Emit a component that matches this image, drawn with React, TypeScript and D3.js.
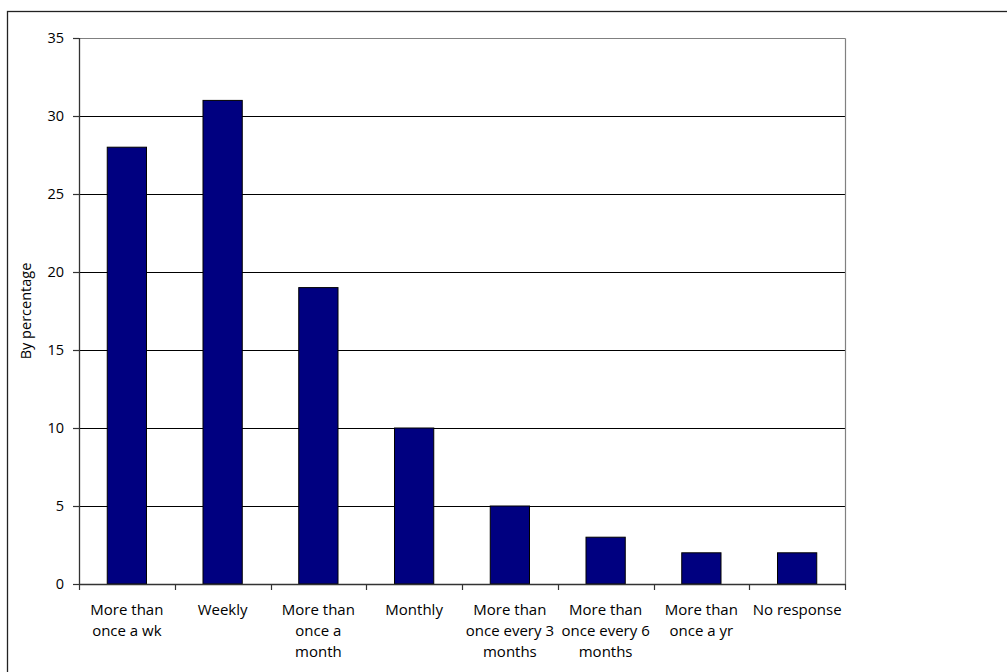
import React from "react";
import * as d3 from "d3";

// Survey frequency categories (line breaks mark the wrapped label lines)
const categories: string[] = [
  "More than\nonce a wk",
  "Weekly",
  "More than\nonce a\nmonth",
  "Monthly",
  "More than\nonce every 3\nmonths",
  "More than\nonce every 6\nmonths",
  "More than\nonce a yr",
  "No response",
];

const percentages: number[] = [28, 31, 19, 10, 5, 3, 2, 2];

const yTicks: number[] = [0, 5, 10, 15, 20, 25, 30, 35];

const yAxisTitle = "By percentage";

const W = 1007;
const H = 672;
const margin = { left: 79, right: 162, top: 38, bottom: 88 };
const FONT = "'Open Sans', 'DejaVu Sans', sans-serif";

export default function App() {
  const x0 = margin.left;
  const x1 = W - margin.right;
  const y0 = H - margin.bottom;
  const y1 = margin.top;

  const x = d3
    .scaleBand<string>()
    .domain(categories)
    .range([x0, x1])
    .paddingInner(0.59)
    .paddingOuter(0.295);

  const y = d3.scaleLinear().domain([0, 35]).range([y0, y1]);

  const boundaries = d3
    .range(categories.length + 1)
    .map((i) => x0 + i * ((x1 - x0) / categories.length));

  const crisp = (v: number) => Math.round(v) + 0.5;

  return (
    <svg
      width={W}
      height={H}
      style={{ position: "absolute", left: 0, top: 0, background: "#fff" }}
      fontFamily={FONT}
    >
      {/* outer chart frame */}
      <rect x={7.5} y={11.5} width={1010} height={680} fill="none" stroke="#222" strokeWidth={1.3} />

      {/* horizontal gridlines */}
      {yTicks
        .filter((t) => t > 0 && t < 35)
        .map((t) => (
          <line key={"g" + t} x1={x0} x2={x1} y1={crisp(y(t))} y2={crisp(y(t))} stroke="#000" strokeWidth={1} />
        ))}

      {/* plot area border (top and right) */}
      <line x1={x0} x2={x1 + 0.5} y1={crisp(y(35))} y2={crisp(y(35))} stroke="#808080" strokeWidth={1.2} />
      <line x1={x1 + 0.5} x2={x1 + 0.5} y1={crisp(y(35))} y2={y0} stroke="#808080" strokeWidth={1.2} />

      {/* bars */}
      {categories.map((c, i) => (
        <rect
          key={c}
          x={x(c)!}
          y={y(percentages[i])}
          width={x.bandwidth()}
          height={y0 - y(percentages[i])}
          fill="#000080"
          stroke="#000"
          strokeWidth={1}
        />
      ))}

      {/* y axis */}
      <line x1={x0 + 0.5} x2={x0 + 0.5} y1={y1} y2={y0 + 0.5} stroke="#333" strokeWidth={1.3} />
      {yTicks.map((t) => (
        <g key={"t" + t}>
          <line x1={x0 - 6} x2={x0} y1={crisp(y(t))} y2={crisp(y(t))} stroke="#333" strokeWidth={1.2} />
          <text x={x0 - 15} y={y(t)} dy="0.35em" textAnchor="end" fontSize={14.5} fill="#000">
            {t}
          </text>
        </g>
      ))}

      {/* x axis */}
      <line x1={x0} x2={x1 + 0.5} y1={y0 + 0.5} y2={y0 + 0.5} stroke="#333" strokeWidth={1.3} />
      {boundaries.map((b, i) => (
        <line key={"xt" + i} x1={crisp(b)} x2={crisp(b)} y1={y0} y2={y0 + 6} stroke="#333" strokeWidth={1.2} />
      ))}
      {categories.map((c) => {
        const cx = x(c)! + x.bandwidth() / 2;
        return (
          <text key={"l" + c} x={cx} y={y0 + 31} textAnchor="middle" fontSize={15} fill="#000">
            {c.split("\n").map((line, j) => (
              <tspan key={j} x={cx} dy={j === 0 ? 0 : 21}>
                {line}
              </tspan>
            ))}
          </text>
        );
      })}

      {/* y axis title */}
      <text
        transform={`translate(${31},${(y0 + y1) / 2}) rotate(-90)`}
        textAnchor="middle"
        fontSize={14.5}
        fill="#000"
      >
        {yAxisTitle}
      </text>
    </svg>
  );
}
